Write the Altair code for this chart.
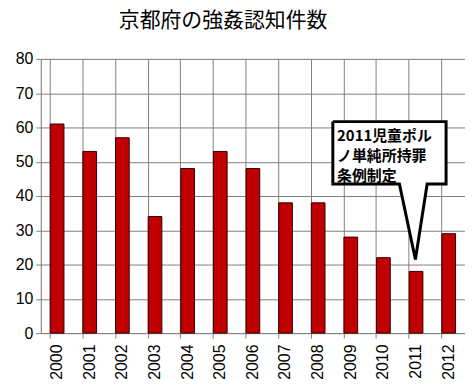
import altair as alt
import pandas as pd

years = ["2000", "2001", "2002", "2003", "2004", "2005", "2006",
         "2007", "2008", "2009", "2010", "2011", "2012"]
counts = [61, 53, 57, 34, 48, 53, 48, 38, 38, 28, 22, 18, 29]

title_text = "京都府の強姦認知件数"
note_lines = ["2011児童ポル", "ノ単純所持罪", "条例制定"]

# callout outline in (category index, value) units
call_x = [8.45, 11.92, 11.92, 11.34, 10.98, 10.49, 8.45, 8.45]
call_y = [61.7, 61.7, 43.5, 43.5, 21.5, 43.5, 43.5, 61.7]
tri_x = [10.49, 10.98, 11.34]
tri_y = [43.5, 21.5, 43.5]
note_x = 8.58
note_y = [57.5, 51.6, 45.8]

bars_df = pd.DataFrame({"year": years, "count": counts})
outline_df = pd.DataFrame({"x": call_x, "y": call_y, "o": list(range(len(call_x)))})
tri_df = pd.DataFrame({"x": tri_x, "y": tri_y, "y2": [43.5] * 3})
box_df = pd.DataFrame({"x": [call_x[0]], "x2": [call_x[1]], "y": [call_y[0]], "y2": [call_y[2]]})
note_df = pd.DataFrame({"x": [note_x] * 3, "y": note_y, "t": note_lines})

xnum = alt.Scale(domain=[-0.5, 12.5], nice=False, zero=False)

bars = alt.Chart(bars_df).mark_bar(color="#C00000", stroke="#300000", strokeWidth=1).encode(
    x=alt.X("year:N", sort=years, title=None,
            scale=alt.Scale(paddingInner=0.58, paddingOuter=0.29),
            axis=alt.Axis(labelAngle=-90, labelFontSize=16, labelFont="Liberation Sans",
                          labelColor="black", labelPadding=6, bandPosition=0,
                          grid=True, gridColor="#808080", tickColor="#808080",
                          tickSize=5, domainColor="#808080")),
    y=alt.Y("count:Q", scale=alt.Scale(domain=[0, 80]), title=None,
            axis=alt.Axis(values=list(range(0, 81, 10)), labelFontSize=16,
                          labelFont="Liberation Sans", labelColor="black",
                          labelPadding=3, grid=True, gridColor="#808080",
                          tickColor="#808080", tickSize=5, domainColor="#808080")),
)

ax = alt.X("x:Q", scale=xnum, axis=None)
ay = alt.Y("y:Q", scale=alt.Scale(domain=[0, 80]), axis=None)

box = alt.Chart(box_df).mark_rect(fill="white").encode(
    x=ax, x2="x2:Q", y=ay, y2="y2:Q")
tri = alt.Chart(tri_df).mark_area(fill="white", opacity=1).encode(
    x=ax, y=ay, y2="y2:Q")
outline = alt.Chart(outline_df).mark_line(color="black", strokeWidth=3, strokeJoin="miter").encode(
    x=ax, y=ay, order="o:Q")
note = alt.Chart(note_df).mark_text(align="left", baseline="middle", fontSize=15,
                                     fontWeight="bold", font="Noto Sans CJK JP",
                                     color="black").encode(
    x=ax, y=ay, text="t:N")

chart = alt.layer(bars, box, tri, outline, note).resolve_scale(
    x="independent", y="independent").properties(
    width=427, height=276,
    autosize=alt.AutoSizeParams(type="none"),
    padding={"left": 33, "top": 50, "right": 0, "bottom": 48},
    title=alt.Title(title_text, fontSize=21, fontWeight="normal",
                    font="Noto Sans CJK JP", color="black", anchor="middle",
                    dx=-30, offset=20),
).configure_view(stroke="black", strokeWidth=1).configure(background="white")

chart.save("out.html", embed_options={"renderer": "svg", "actions": False})
